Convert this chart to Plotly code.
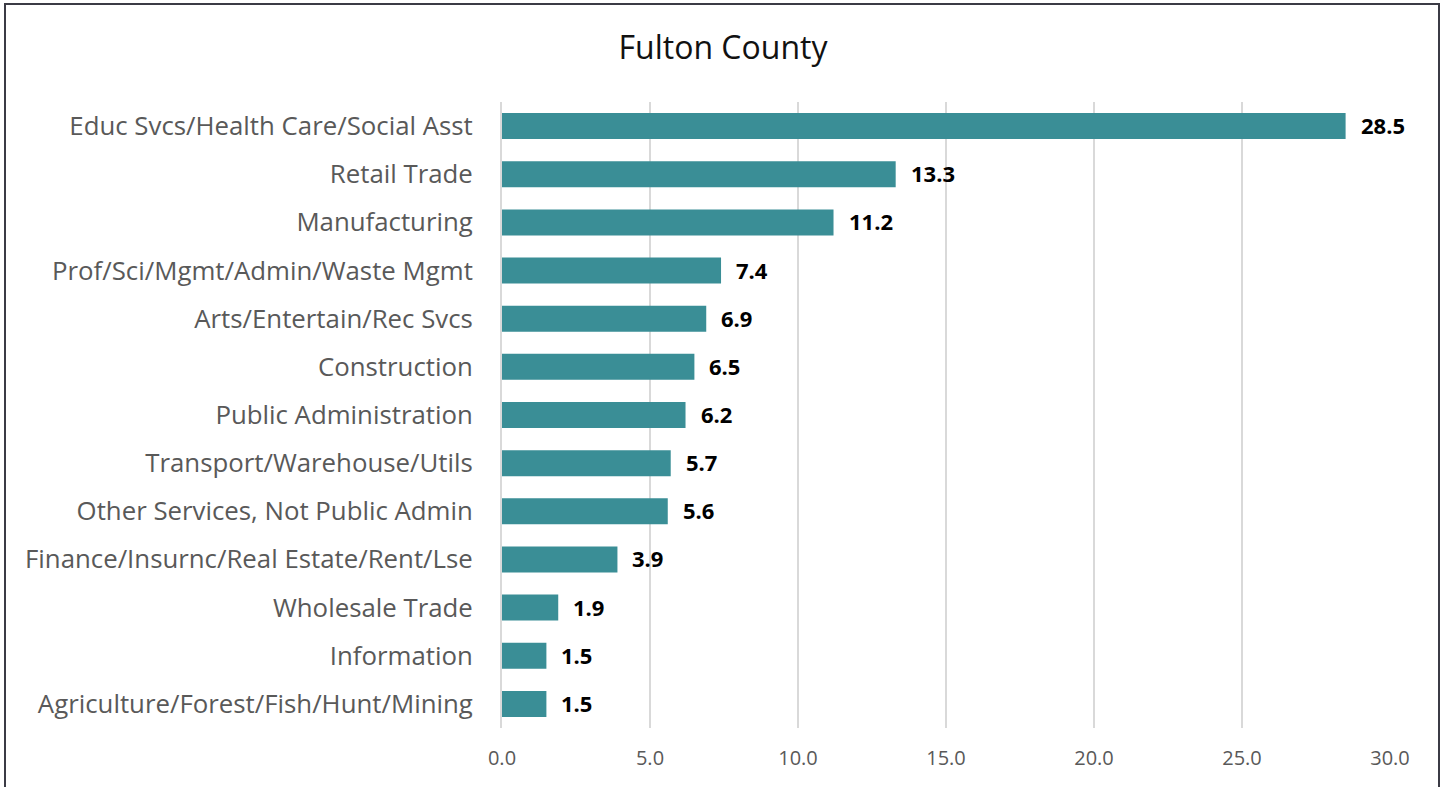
import plotly.graph_objects as go

categories = [
    "Educ Svcs/Health Care/Social Asst",
    "Retail Trade",
    "Manufacturing",
    "Prof/Sci/Mgmt/Admin/Waste Mgmt",
    "Arts/Entertain/Rec Svcs",
    "Construction",
    "Public Administration",
    "Transport/Warehouse/Utils",
    "Other Services, Not Public Admin",
    "Finance/Insurnc/Real Estate/Rent/Lse",
    "Wholesale Trade",
    "Information",
    "Agriculture/Forest/Fish/Hunt/Mining",
]
values = [28.5, 13.3, 11.2, 7.4, 6.9, 6.5, 6.2, 5.7, 5.6, 3.9, 1.9, 1.5, 1.5]
tick_vals = [0, 5, 10, 15, 20, 25, 30]
tick_text = ["0.0", "5.0", "10.0", "15.0", "20.0", "25.0", "30.0"]

W, H = 1446, 787
L, R, T, B = 502, 56, 102, 59
pw, ph = W - L - R, H - T - B
FONT = "Open Sans"

fig = go.Figure(go.Bar(
    x=values, y=categories, orientation="h",
    marker=dict(color="#3A8E96", line=dict(width=0)),
    width=0.54,
    hoverinfo="x+y",
))

for c, v in zip(categories, values):
    fig.add_annotation(x=v, y=c, xref="x", yref="y", text=f"<b>{v:.1f}</b>",
                       showarrow=False, xanchor="left", yanchor="middle",
                       xshift=13, yshift=1,
                       font=dict(family=FONT, size=22, color="#000000"))

fig.update_layout(
    width=W, height=H,
    margin=dict(l=L, r=R, t=T, b=B),
    paper_bgcolor="white", plot_bgcolor="white",
    title=dict(text="Fulton County", x=0.5, xref="container", xanchor="center",
               y=1 - 48 / H, yref="container", yanchor="middle",
               font=dict(family=FONT, size=32, color="#111111")),
    showlegend=False,
    bargap=0.46,
    xaxis=dict(range=[0, 30], tickvals=tick_vals, ticktext=tick_text,
               showgrid=True, gridcolor="#D9D9D9", gridwidth=2,
               zeroline=False, showline=False, ticks="",
               tickfont=dict(family=FONT, size=20, color="#595959"),
               ticklabelstandoff=16),
    yaxis=dict(autorange="reversed", showgrid=False, showline=True,
               linecolor="#D9D9D9", linewidth=2, ticks="",
               tickfont=dict(family=FONT, size=25.8, color="#595959"),
               ticklabelstandoff=22),
)

fig.add_shape(type="rect", xref="paper", yref="paper",
              x0=(5 - L) / pw, x1=(1439 - L) / pw,
              y0=(H - B - 800) / ph, y1=(H - B - 4) / ph,
              line=dict(color="#3B3B45", width=2), fillcolor="rgba(0,0,0,0)",
              layer="above")

fig.write_html("out.html", config={"displayModeBar": False},
               post_script="document.body.style.margin='0';document.body.style.overflow='hidden';")
